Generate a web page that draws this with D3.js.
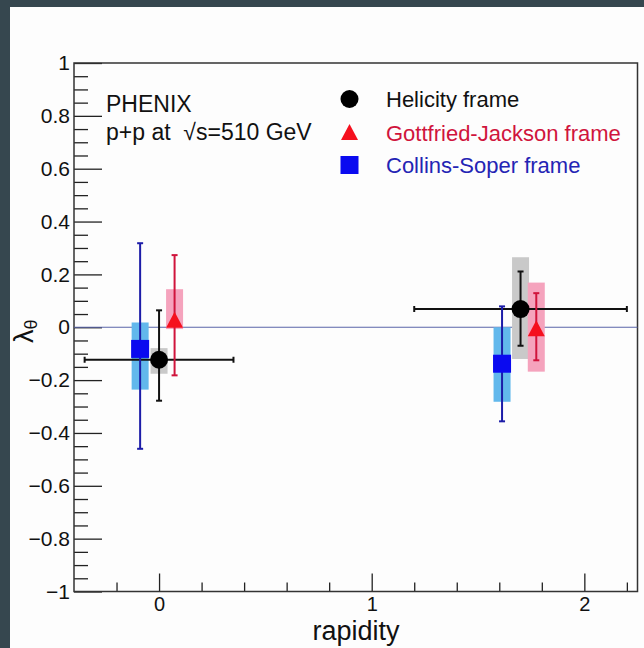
<!DOCTYPE html>
<html><head><meta charset="utf-8">
<script src="https://cdn.jsdelivr.net/npm/d3@7"></script>
<style>
html,body{margin:0;padding:0;background:#36474f;}
svg{display:block;}
text{font-family:"Liberation Sans",Arial,Helvetica,sans-serif;}
</style></head>
<body>
<svg id="c" width="644" height="648"></svg>
<script>
// ---- data ----
const frameNames = ["Helicity frame", "Gottfried-Jackson frame", "Collins-Soper frame"];
const helX = [0.0, 1.70];
const helY = [-0.123, 0.069];
const helStatHi = [0.064, 0.211];
const helStatLo = [-0.278, -0.070];
const helSysHi = [-0.079, 0.265];
const helSysLo = [-0.176, -0.120];
const helXErr = [0.35, 0.50];
const gjX = [0.073, 1.774];
const gjY = [0.025, -0.008];
const gjStatHi = [0.273, 0.129];
const gjStatLo = [-0.182, -0.125];
const gjSysHi = [0.144, 0.169];
const gjSysLo = [-0.007, -0.168];
const csX = [-0.089, 1.613];
const csY = [-0.082, -0.138];
const csStatHi = [0.318, 0.079];
const csStatLo = [-0.460, -0.356];
const csSysHi = [0.018, 0.000];
const csSysLo = [-0.236, -0.282];
const yMajorTicks = [-1, -0.8, -0.6, -0.4, -0.2, 0, 0.2, 0.4, 0.6, 0.8, 1];
const xMajorTicks = [0, 1, 2];
const xDomain = [-0.4, 2.25];
const yDomain = [-1, 1];

// ---- layout ----
const svg = d3.select("#c");
svg.append("rect").attr("x",10).attr("y",7).attr("width",634).attr("height",641).attr("fill","#fdfdfd");
const L=74, R=637.5, T=63, B=591.5;
const x = d3.scaleLinear().domain(xDomain).range([L,R]);
const y = d3.scaleLinear().domain(yDomain).range([B,T]);

// minor ticks
const yMinor = d3.range(-20, 21).map(i => i*0.05).filter(v => Math.abs(Math.round(v*5) - v*5) > 1e-6);
const xMinor = d3.range(-1, 12).map(i => i*0.2).filter(v => Math.abs(Math.round(v) - v) > 1e-6);

const fmt = d => d3.format("~g")(d);
const gy = svg.append("g").attr("transform",`translate(${L},0)`)
  .call(d3.axisRight(y).tickValues(yMajorTicks).tickSize(28).tickFormat(""));
const gyMin = svg.append("g").attr("transform",`translate(${L},0)`)
  .call(d3.axisRight(y).tickValues(yMinor).tickSize(14).tickFormat(""));
const gyLab = svg.append("g").attr("transform",`translate(${L},0)`)
  .call(d3.axisLeft(y).tickValues(yMajorTicks).tickSize(0).tickPadding(4).tickFormat(fmt));
const gx = svg.append("g").attr("transform",`translate(0,${B})`)
  .call(d3.axisTop(x).tickValues(xMajorTicks).tickSize(18).tickFormat(""));
const gxMin = svg.append("g").attr("transform",`translate(0,${B})`)
  .call(d3.axisTop(x).tickValues(xMinor).tickSize(9).tickFormat(""));
const gxLab = svg.append("g").attr("transform",`translate(0,${B})`)
  .call(d3.axisBottom(x).tickValues(xMajorTicks).tickSize(0).tickPadding(5).tickFormat(fmt));
[gy,gyMin,gx,gxMin,gyLab,gxLab].forEach(g => { g.select(".domain").remove(); g.selectAll("line").attr("stroke","#222").attr("stroke-width",1.3); });
gyLab.selectAll("text").attr("font-size",21).attr("fill","#111").attr("font-family","Liberation Sans, Arial, sans-serif");
gxLab.selectAll("text").attr("font-size",20).attr("fill","#111").attr("font-family","Liberation Sans, Arial, sans-serif");

// frame
svg.append("rect").attr("x",L).attr("y",T).attr("width",R-L).attr("height",B-T)
  .attr("fill","none").attr("stroke","#333").attr("stroke-width",1.5);

// zero line
svg.append("line").attr("x1",L).attr("x2",R).attr("y1",y(0)).attr("y2",y(0))
  .attr("stroke","#5a64a8").attr("stroke-width",1.2);

// series
const series = [
  {X:helX,Y:helY,hi:helStatHi,lo:helStatLo,sh:helSysHi,sl:helSysLo,xe:helXErr,box:"#c9c9c9",bar:"#111",mk:"#000",shape:"circle"},
  {X:gjX,Y:gjY,hi:gjStatHi,lo:gjStatLo,sh:gjSysHi,sl:gjSysLo,xe:null,box:"#f5a3bd",bar:"#d0143c",mk:"#f5101e",shape:"triangle"},
  {X:csX,Y:csY,hi:csStatHi,lo:csStatLo,sh:csSysHi,sl:csSysLo,xe:null,box:"#62b8ec",bar:"#1c1ca8",mk:"#0a0af0",shape:"square"}
];
const boxW = 17, cap = 3;
const gBox = svg.append("g"), gBar = svg.append("g"), gMk = svg.append("g");
series.forEach(s => {
  s.X.forEach((xv,i) => {
    const cx = x(xv);
    gBox.append("rect").attr("x",cx-boxW/2).attr("width",boxW)
      .attr("y",y(s.sh[i])).attr("height",y(s.sl[i])-y(s.sh[i])).attr("fill",s.box);
    gBar.append("line").attr("x1",cx).attr("x2",cx).attr("y1",y(s.hi[i])).attr("y2",y(s.lo[i]))
      .attr("stroke",s.bar).attr("stroke-width",2);
    [s.hi[i], s.lo[i]].forEach(v => gBar.append("line").attr("x1",cx-cap).attr("x2",cx+cap)
      .attr("y1",y(v)).attr("y2",y(v)).attr("stroke",s.bar).attr("stroke-width",2));
    if (s.xe) {
      const x1 = x(xv - s.xe[i]), x2 = x(xv + s.xe[i]), cy = y(s.Y[i]);
      gBar.append("line").attr("x1",x1).attr("x2",x2).attr("y1",cy).attr("y2",cy).attr("stroke",s.bar).attr("stroke-width",2);
      [x1,x2].forEach(xx => gBar.append("line").attr("x1",xx).attr("x2",xx).attr("y1",cy-cap).attr("y2",cy+cap).attr("stroke",s.bar).attr("stroke-width",2));
    }
  });
});
function marker(g, shape, cx, cy, col) {
  if (shape === "circle") g.append("circle").attr("cx",cx).attr("cy",cy).attr("r",9).attr("fill",col);
  else if (shape === "square") g.append("rect").attr("x",cx-9).attr("y",cy-9).attr("width",18).attr("height",18).attr("fill",col);
  else g.append("path").attr("d",`M${cx},${cy-9}L${cx+8.5},${cy+7}L${cx-8.5},${cy+7}Z`).attr("fill",col);
}
series.forEach(s => s.X.forEach((xv,i) => marker(gMk, s.shape, x(xv), y(s.Y[i]), s.mk)));

// legend
const legCols = ["#111","#d0143c","#2424b4"];
const legY = [99, 133, 165];
series.forEach((s,i) => {
  marker(svg, s.shape, 349.5, legY[i], s.mk);
  svg.append("text").attr("x",386).attr("y",legY[i]+8).attr("font-size",22).attr("fill",legCols[i]).text(frameNames[i]);
});

// annotation
svg.append("text").attr("x",106).attr("y",112).attr("font-size",23).attr("fill","#111").text("PHENIX");
svg.append("text").attr("x",106).attr("y",140).attr("font-size",23).attr("fill","#111").attr("xml:space","preserve").text("p+p at  √s=510 GeV");

// axis titles
svg.append("text").attr("x",356).attr("y",640).attr("text-anchor","middle").attr("font-size",27).attr("fill","#111").text("rapidity");
const yt = svg.append("text").attr("transform","translate(33,343) rotate(-90)").attr("fill","#111");
yt.append("tspan").attr("font-size",27).text("λ");
yt.append("tspan").attr("font-size",18).attr("dy",4).text("θ");
</script>
</body></html>
